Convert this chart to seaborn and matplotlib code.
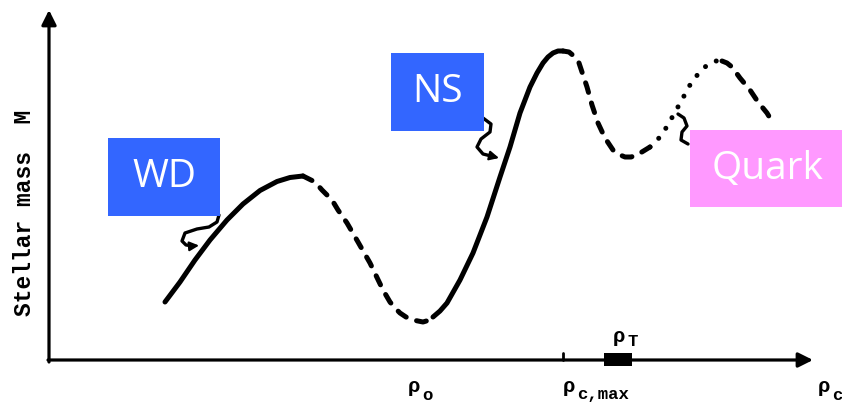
import matplotlib
matplotlib.use("Agg")
import matplotlib.pyplot as plt
from matplotlib.patches import Rectangle
import seaborn as sns

sns.set_theme(style="white")

# Central density (arbitrary units) and stellar mass (arbitrary units), piece by piece
wd_rho = [11.6, 13.1, 14.6, 16.1, 17.8, 19.4, 21.1, 22.8, 24.1, 25.4]
wd_mass = [5.8, 7.8, 10.0, 12.0, 14.0, 15.6, 16.95, 17.85, 18.25, 18.4]

unstable1_rho = [25.4, 26.6, 27.3, 28.3, 28.9, 29.8, 30.9, 32.1, 33.4, 34.1, 34.6,
                 35.1, 35.7, 36.4, 37.4, 37.9, 38.4]
unstable1_mass = [18.4, 17.8, 17.0, 16.0, 15.0, 13.7, 11.8, 9.7, 7.0, 5.8, 5.2,
                  4.7, 4.3, 4.0, 3.8, 3.95, 4.3]

ns_rho = [38.4, 39.1, 39.8, 41.1, 42.4, 43.8, 45.1, 46.1, 47.1, 48.1, 48.8, 49.4,
          49.9, 50.4, 50.9, 51.4]
ns_mass = [4.3, 4.9, 5.7, 8.0, 10.7, 14.3, 18.3, 21.3, 24.7, 27.3, 28.7, 29.7,
           30.3, 30.7, 30.9, 30.9]

unstable2_rho = [51.4, 52.0, 52.6, 53.0, 53.3, 53.8, 54.3, 54.9, 55.6, 56.4, 57.0,
                 57.6, 58.2, 58.8, 60.1]
unstable2_mass = [30.9, 30.8, 30.3, 29.7, 28.8, 27.3, 25.5, 23.7, 22.2, 21.0, 20.55,
                  20.3, 20.3, 20.5, 21.3]

quark_rho = [60.1, 61.1, 61.9, 62.6, 63.3, 63.8, 64.4, 65.1, 65.6, 66.1, 66.7, 67.3]
quark_mass = [21.3, 22.3, 23.5, 24.8, 26.0, 27.0, 28.0, 28.8, 29.3, 29.7, 29.9, 29.9]

unstable3_rho = [67.3, 67.8, 68.3, 69.1, 70.1, 70.9, 71.8, 72.4]
unstable3_mass = [29.9, 29.7, 29.3, 28.2, 27.0, 25.8, 24.7, 23.7]

# Marked densities on the horizontal axis
rho_o = 37.1
rho_cmax = 51.4
rho_T = (55.5, 58.3)

fig = plt.figure(figsize=(8.42, 4.07), dpi=100)
ax = fig.add_axes([0, 0, 1, 1])
ax.set_xlim(-4.9, 79.3)
ax.set_ylim(-4.7, 36.0)
ax.axis("off")

LW = 3.6
dashed = (0, (2.0, 2.2))
dotted = (0, (0.01, 2.45))
segments = [
    (wd_rho, wd_mass, "-"),
    (unstable1_rho, unstable1_mass, dashed),
    (ns_rho, ns_mass, "-"),
    (unstable2_rho, unstable2_mass, dashed),
    (quark_rho, quark_mass, dotted),
    (unstable3_rho, unstable3_mass, dashed),
]
for rho, mass, ls in segments:
    sns.lineplot(x=rho, y=mass, sort=False, estimator=None, color="black",
                 linewidth=LW, ax=ax)
    ln = ax.lines[-1]
    ln.set_linestyle(ls)
    ln.set_dash_capstyle("round")
    ln.set_solid_capstyle("round")
    ln.set_solid_joinstyle("round")

# Axes drawn as arrows
arrow = dict(arrowstyle="-|>", lw=2.3, color="black", mutation_scale=22,
             shrinkA=0, shrinkB=0)
ax.annotate("", xy=(0, 35.0), xytext=(0, -0.2), arrowprops=arrow)
ax.annotate("", xy=(76.4, 0), xytext=(-0.1, 0), arrowprops=arrow)

# Tick at the maximum central density and the transition band
ax.plot([rho_cmax, rho_cmax], [0, 0.7], color="black", lw=2)
ax.add_patch(Rectangle((rho_T[0], -0.55), rho_T[1] - rho_T[0], 1.3,
                       color="black", lw=0))

mono = dict(family="Liberation Mono", weight="bold", color="black")
ax.text(-2.4, 14.7, "Stellar mass  M", rotation=90, ha="center", va="center",
        fontsize=16.5, **mono)

def rho_label(x, y, sub, sub_dy=-0.8):
    ax.text(x, y, "ρ", ha="left", va="center", fontsize=15, **mono)
    ax.text(x + 1.45, y + sub_dy, sub, ha="left", va="center", fontsize=12.5, **mono)

rho_label(35.9, -2.7, "o")
rho_label(51.4, -2.7, "c,max")
rho_label(76.9, -2.7, "c")
rho_label(56.4, 2.4, "T", sub_dy=-0.6)

# Hand-drawn pointers from the labels to the branches
pointer_style = dict(color="black", lw=2.4, solid_capstyle="round",
                     solid_joinstyle="round")
wd_ptr = ([17.0, 16.8, 16.0, 14.8, 13.6, 13.3, 13.7, 14.5],
          [14.5, 13.8, 13.3, 13.1, 12.7, 11.9, 11.5, 11.4])
ns_ptr = ([43.4, 44.2, 44.1, 43.2, 42.8, 43.4, 44.6],
          [24.2, 23.6, 22.8, 22.1, 21.3, 20.6, 20.3])
qk_ptr = ([62.9, 63.5, 63.8, 63.3, 63.2, 63.9],
          [24.6, 24.2, 23.4, 22.8, 22.0, 21.6])
for px, py in (wd_ptr, ns_ptr, qk_ptr):
    ax.plot(px, py, **pointer_style)
ax.annotate("", xy=(15.0, 11.45), xytext=(14.4, 11.4),
            arrowprops=dict(arrowstyle="-|>", color="black", lw=1.5,
                            mutation_scale=14, shrinkA=0, shrinkB=0))
ax.annotate("", xy=(45.0, 20.2), xytext=(44.4, 20.35),
            arrowprops=dict(arrowstyle="-|>", color="black", lw=1.5,
                            mutation_scale=14, shrinkA=0, shrinkB=0))

# Coloured labels for each stable branch
boxes = [
    ("WD", (5.9, 14.4), 11.2, 7.8, "#3366FF", 11.5, 18.3, "center"),
    ("NS", (34.2, 22.9), 9.3, 7.8, "#3366FF", 38.85, 26.8, "center"),
    ("Quark", (64.1, 15.3), 16.0, 7.7, "#FF99FF", 66.3, 19.1, "left"),
]
for label, xy, w, h, col, tx, ty, ha in boxes:
    rect = Rectangle(xy, w, h, facecolor=col, edgecolor="none", zorder=5)
    ax.add_patch(rect)
    ax.text(tx, ty, label, ha=ha, va="center", color="white",
            fontsize=28, family="Open Sans", zorder=6)

fig.savefig("out.png", dpi=100)
